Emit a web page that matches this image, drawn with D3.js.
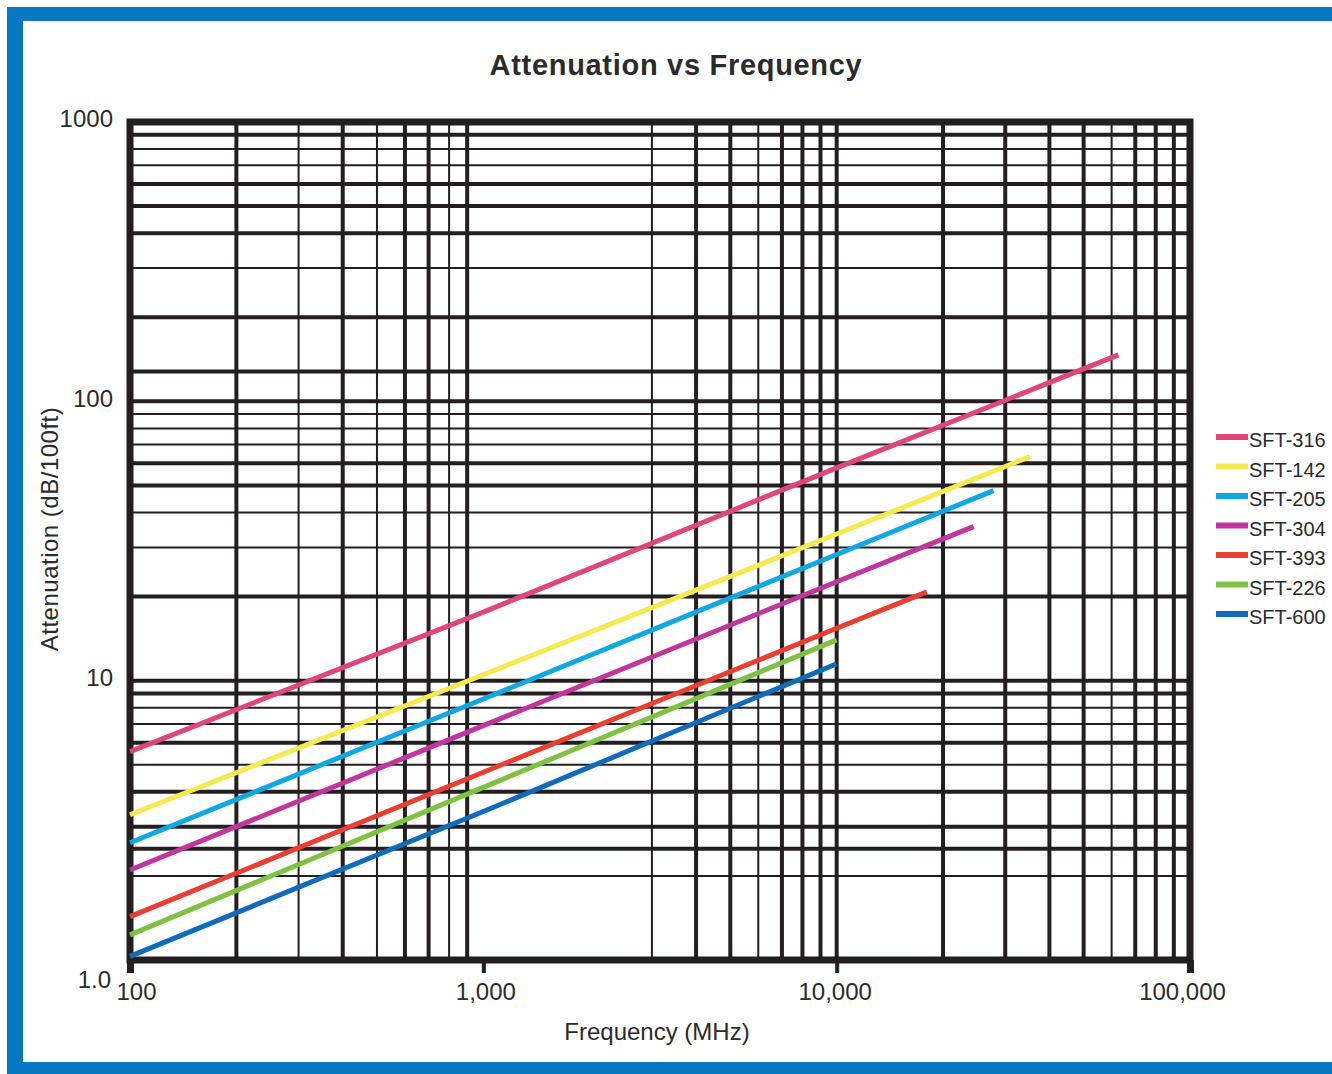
<!DOCTYPE html>
<html>
<head>
<meta charset="utf-8">
<script src="https://cdn.jsdelivr.net/npm/d3@7"></script>
<style>
  html, body { margin: 0; padding: 0; background: #fff; }
  svg { display: block; }
  text { font-family: "Liberation Sans", Arial, Helvetica, sans-serif; fill: #2b2b2b; }
</style>
</head>
<body>
<svg id="chart" width="1332" height="1074"></svg>
<script>
// ---------------- data ----------------
const freqTickValues = [100, 1000, 10000, 100000];
const freqTickLabels = ["100", "1,000", "10,000", "100,000"];
const attenTickValues = [1, 10, 100, 1000];
const attenTickLabels = ["1.0", "10", "100", "1000"];

// grid lines as printed on the original chart (heavy / light)
const freqGridHeavy = [200, 400, 600, 700, 900, 4000, 5000, 7000, 8000, 9000, 10000,
                       20000, 30000, 40000, 50000, 70000, 80000, 90000];
const freqGridLight = [300, 500, 800, 3000, 6000, 60000];
const attenGridHeavy = [2.5, 3, 4, 6, 9, 10, 20, 50, 60, 100, 128, 200, 400, 500, 600, 900];
const attenGridLight = [2, 5, 7, 8, 30, 40, 70, 80, 90, 300, 700, 800];

const seriesNames = ["SFT-316", "SFT-142", "SFT-205", "SFT-304", "SFT-393", "SFT-226", "SFT-600"];
const seriesColors = ["#e0457b", "#f6ea4e", "#10a8e2", "#c2359f", "#ea3f30", "#7fc241", "#0f6bbb"];

// [frequency MHz, attenuation dB/100ft]
const sft316 = [[100, 5.57], [1000, 17.6], [10000, 57.8], [62700, 146.6]];
const sft142 = [[100, 3.31], [1000, 10.5], [10000, 33.5], [35200, 63.4]];
const sft205 = [[100, 2.63], [1000, 8.6], [10000, 28.3], [27800, 47.9]];
const sft304 = [[100, 2.10], [1000, 6.9], [10000, 22.6], [24400, 35.6]];
const sft393 = [[100, 1.43], [1000, 4.7], [10000, 15.4], [18000, 20.8]];
const sft226 = [[100, 1.23], [1000, 4.15], [10000, 14.0]];
const sft600 = [[100, 1.03], [1000, 3.4], [10000, 11.5]];
const seriesData = [sft316, sft142, sft205, sft304, sft393, sft226, sft600];

// ---------------- drawing ----------------
(function () {
const W = 1332, H = 1074;
const svg = d3.select("#chart");
const ink = "#231f20";

// blue frame
const frameBlue = "#0a77c1";
svg.append("rect").attr("x", 0).attr("y", 0).attr("width", W).attr("height", H).attr("fill", "#fff");
svg.append("rect").attr("x", 7).attr("y", 7).attr("width", W - 7).attr("height", 14).attr("fill", frameBlue);
svg.append("rect").attr("x", 7).attr("y", 7).attr("width", 16).attr("height", H - 7).attr("fill", frameBlue);
svg.append("rect").attr("x", 7).attr("y", 1062).attr("width", W - 7).attr("height", 12).attr("fill", frameBlue);

const pL = 130, pR = 1190, pT = 122, pB = 960;
const x = d3.scaleLog().domain([100, 100000]).range([pL, pR]);
const y = d3.scaleLog().domain([1, 1000]).range([pB, pT]);

const grid = svg.append("g");
grid.selectAll(".vl").data(freqGridLight).join("line")
  .attr("x1", d => x(d)).attr("x2", d => x(d)).attr("y1", pT).attr("y2", pB)
  .attr("stroke", ink).attr("stroke-width", 2);
grid.selectAll(".hl").data(attenGridLight).join("line")
  .attr("y1", d => y(d)).attr("y2", d => y(d)).attr("x1", pL).attr("x2", pR)
  .attr("stroke", ink).attr("stroke-width", 2);
grid.selectAll(".vh").data(freqGridHeavy).join("line")
  .attr("x1", d => x(d)).attr("x2", d => x(d)).attr("y1", pT).attr("y2", pB)
  .attr("stroke", ink).attr("stroke-width", 4);
grid.selectAll(".hh").data(attenGridHeavy).join("line")
  .attr("y1", d => y(d)).attr("y2", d => y(d)).attr("x1", pL).attr("x2", pR)
  .attr("stroke", ink).attr("stroke-width", 4);

// axes (ticks + labels)
const xAxis = d3.axisBottom(x).tickValues(freqTickValues)
  .tickFormat((d, i) => freqTickLabels[i]).tickSize(13).tickPadding(5);
const gx = svg.append("g").attr("transform", `translate(0,${pB})`).call(xAxis);
gx.select(".domain").remove();
gx.selectAll(".tick line").attr("stroke", ink).attr("stroke-width", (d, i) => (i === 0 || i === 3) ? 7 : 4);
gx.selectAll(".tick text").attr("font-size", 24).attr("fill", "#2b2b2b")
  .attr("font-family", '"Liberation Sans", Arial, sans-serif')
  .attr("dx", (d, i) => i === 0 ? 6 : (i === 3 ? -8 : (i === 1 ? 2 : -2)))
  .attr("dy", "0.9em");

const yAxis = d3.axisLeft(y).tickValues(attenTickValues)
  .tickFormat((d, i) => attenTickLabels[i]).tickSize(0).tickPadding(17);
const gy = svg.append("g").attr("transform", `translate(${pL},0)`).call(yAxis);
gy.select(".domain").remove();
gy.selectAll(".tick text").attr("font-size", 24).attr("fill", "#2b2b2b")
  .attr("font-family", '"Liberation Sans", Arial, sans-serif')
  .attr("dy", (d, i) => i === 0 ? "1.15em" : "0.2em")
  .attr("dx", (d, i) => i === 0 ? -2 : 0);

// plot frame
svg.append("rect").attr("x", pL).attr("y", pT).attr("width", pR - pL).attr("height", pB - pT)
  .attr("fill", "none").attr("stroke", ink).attr("stroke-width", 7);

// data lines
const line = d3.line().x(d => x(d[0])).y(d => y(d[1]));
svg.append("g").selectAll("path").data(seriesData).join("path")
  .attr("d", line).attr("fill", "none")
  .attr("stroke", (d, i) => seriesColors[i]).attr("stroke-width", 5).attr("stroke-linecap", "butt");

// legend
const legY = d3.scaleLinear().domain([0, 6]).range([437, 614]);
const leg = svg.append("g");
seriesNames.forEach((name, i) => {
  leg.append("line").attr("x1", 1216).attr("x2", 1248).attr("y1", legY(i)).attr("y2", legY(i))
    .attr("stroke", seriesColors[i]).attr("stroke-width", 6);
  leg.append("text").attr("x", 1249).attr("y", legY(i) + 10).attr("font-size", 20).text(name);
});

// titles
svg.append("text").attr("x", 676).attr("y", 75).attr("text-anchor", "middle")
  .attr("font-size", 29).attr("font-weight", "bold").attr("letter-spacing", 0.7)
  .text("Attenuation vs Frequency");
svg.append("text").attr("x", 657).attr("y", 1040).attr("text-anchor", "middle")
  .attr("font-size", 24).text("Frequency (MHz)");
svg.append("text").attr("transform", "translate(58,529) rotate(-90)").attr("text-anchor", "middle")
  .attr("font-size", 24).attr("letter-spacing", 0.5).text("Attenuation (dB/100ft)");
})();
</script>
</body>
</html>
